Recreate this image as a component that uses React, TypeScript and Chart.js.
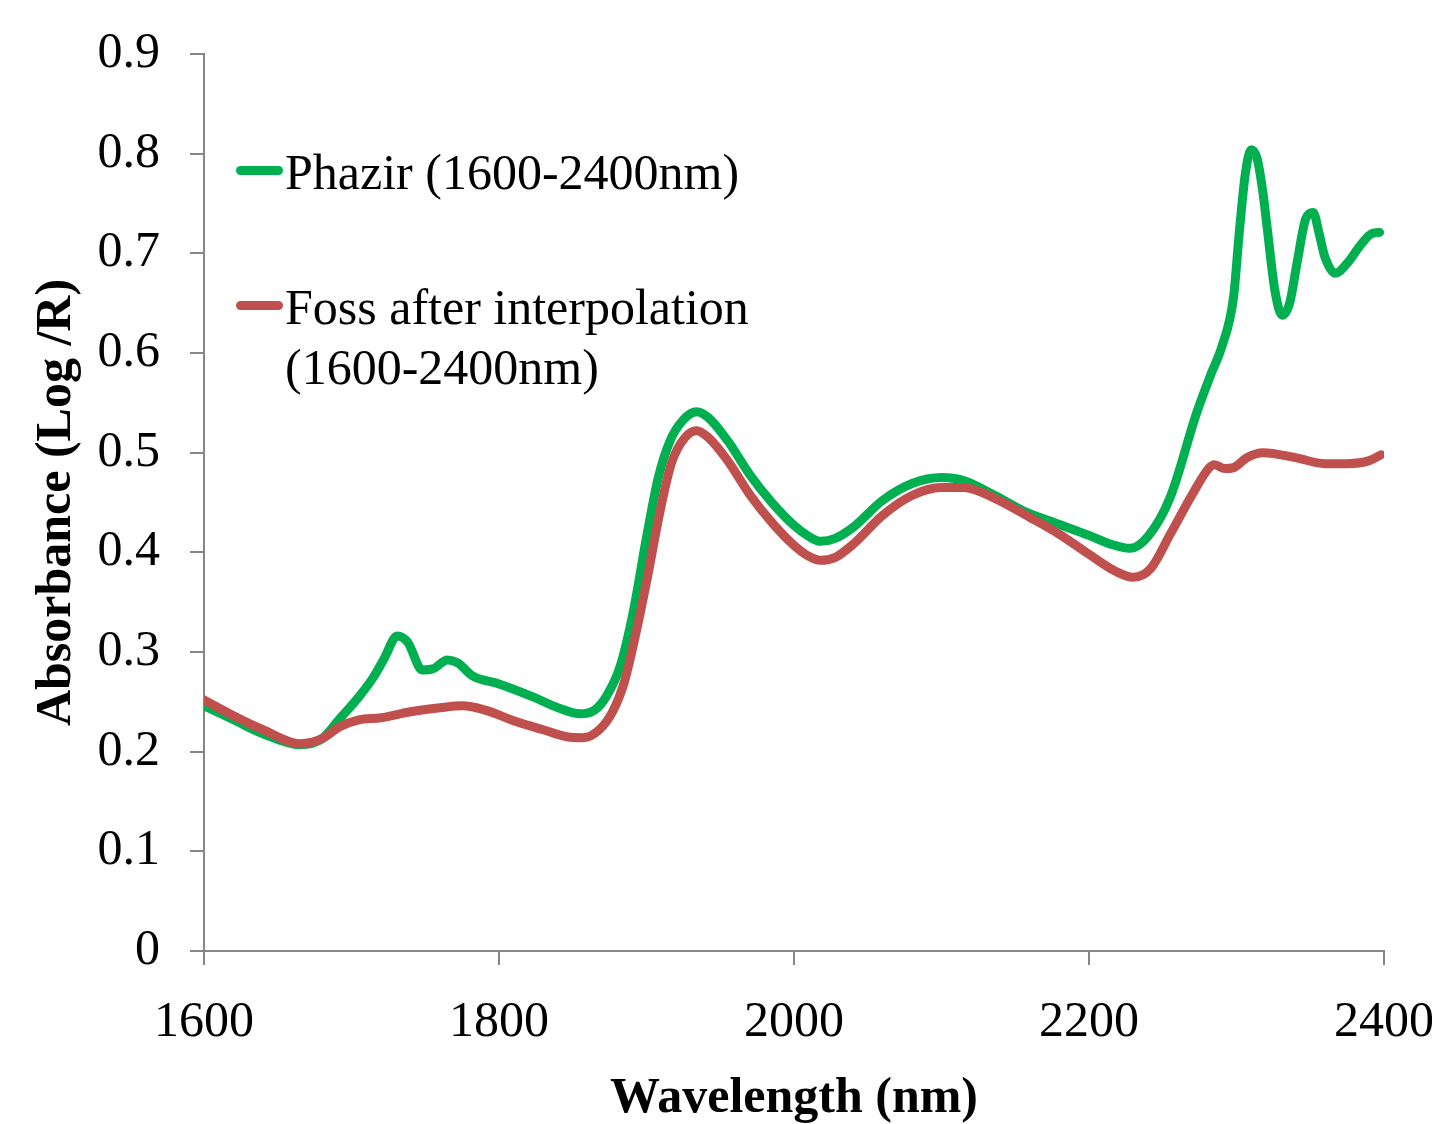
import React, { useEffect, useRef } from "react";
import { Chart, registerables } from "chart.js";

Chart.register(...registerables);

const phazirWavelengths = [
  1600, 1620, 1640, 1665, 1680, 1692, 1705, 1715, 1722, 1731, 1738, 1748, 1755, 1765, 1772, 1782,
  1800, 1823, 1840, 1855, 1865, 1873, 1882, 1891, 1900, 1908, 1916, 1925, 1934, 1942, 1955, 1970,
  1985, 2000, 2010, 2018, 2028, 2040, 2060, 2080, 2100, 2115, 2135, 2155, 2180, 2200, 2215, 2228,
  2240, 2255, 2273, 2283, 2290, 2298, 2302, 2306, 2310, 2314, 2318, 2321, 2326, 2331, 2336, 2341,
  2347, 2352, 2356, 2360, 2367, 2375, 2385, 2392, 2397,
];
const phazirValues = [
  0.246, 0.232, 0.218, 0.207, 0.213, 0.233, 0.255, 0.275, 0.293, 0.316, 0.31, 0.282, 0.283, 0.292, 0.289, 0.276,
  0.268, 0.255, 0.244, 0.238, 0.242, 0.256, 0.285, 0.34, 0.415, 0.475, 0.512, 0.533, 0.541, 0.535, 0.512, 0.478,
  0.45, 0.427, 0.416, 0.411, 0.414, 0.425, 0.452, 0.469, 0.475, 0.472, 0.458, 0.442, 0.428, 0.417, 0.408, 0.404,
  0.416, 0.455, 0.54, 0.58, 0.606, 0.656, 0.723, 0.78, 0.804, 0.795, 0.76, 0.723, 0.663, 0.638, 0.65, 0.69,
  0.735, 0.741, 0.72, 0.696, 0.68, 0.69, 0.71, 0.72, 0.721,
];

const fossWavelengths = [
  1600, 1620, 1640, 1665, 1680, 1692, 1705, 1720, 1740, 1760, 1775, 1790, 1812, 1830, 1846, 1857,
  1868, 1877, 1885, 1893, 1900, 1909, 1917, 1926, 1934, 1942, 1955, 1970, 1985, 2000, 2010, 2018,
  2028, 2040, 2060, 2080, 2100, 2115, 2135, 2160, 2180, 2200, 2218, 2230, 2242, 2255, 2270, 2281,
  2285, 2292, 2298, 2307, 2318, 2340, 2360, 2375, 2390, 2398,
];
const fossValues = [
  0.252, 0.236, 0.222, 0.208, 0.213, 0.225, 0.232, 0.234, 0.24, 0.244, 0.246, 0.242, 0.23, 0.222, 0.215, 0.214,
  0.222, 0.24, 0.27, 0.32, 0.37, 0.44, 0.49, 0.515, 0.522, 0.515, 0.492, 0.458, 0.43, 0.407, 0.396, 0.392,
  0.395, 0.408, 0.437, 0.457, 0.465, 0.465, 0.455, 0.435, 0.418, 0.398, 0.381, 0.375, 0.384, 0.418, 0.458, 0.484,
  0.488, 0.484, 0.485, 0.495, 0.5, 0.495, 0.489, 0.489, 0.492, 0.498,
];

const seriesNames = ["Phazir (1600-2400nm)", "Foss after interpolation (1600-2400nm)"];
const xTitle = "Wavelength (nm)";
const yTitle = "Absorbance (Log /R)";

const GREEN = "#00B050";
const RED = "#C0504D";
const AXIS = "#868686";
const FONT = "'Liberation Serif', 'Times New Roman', serif";

export default function App() {
  const ref = useRef<HTMLCanvasElement | null>(null);

  useEffect(() => {
    if (!ref.current) return;
    const chart = new Chart(ref.current, {
      type: "line",
      data: {
        datasets: [
          {
            label: seriesNames[1],
            data: fossWavelengths.map((x, i) => ({ x, y: fossValues[i] })),
            borderColor: RED,
            borderWidth: 9,
            pointRadius: 0,
            cubicInterpolationMode: "monotone",
            borderCapStyle: "round",
            borderJoinStyle: "round",
          },
          {
            label: seriesNames[0],
            data: phazirWavelengths.map((x, i) => ({ x, y: phazirValues[i] })),
            borderColor: GREEN,
            borderWidth: 9,
            pointRadius: 0,
            cubicInterpolationMode: "monotone",
            borderCapStyle: "round",
            borderJoinStyle: "round",
          },
        ],
      },
      options: {
        responsive: false,
        animation: false,
        layout: { padding: { top: 54, right: 48, bottom: 0, left: 0 } },
        plugins: { legend: { display: false }, tooltip: { enabled: false } },
        scales: {
          x: {
            type: "linear",
            min: 1600,
            max: 2400,
            ticks: {
              stepSize: 200,
              color: "#000",
              padding: 28,
              maxRotation: 0,
              font: { family: FONT, size: 50 },
              callback: (v: any) => String(v),
            },
            grid: {
              drawOnChartArea: false,
              tickLength: 14,
              color: AXIS,
              lineWidth: 2,
            },
            border: { color: AXIS, width: 2 },
            title: {
              display: true,
              text: xTitle,
              color: "#000",
              font: { family: FONT, size: 50, weight: "bold", lineHeight: 1 },
              padding: { top: 0, bottom: 0 },
            },
            afterFit: (s: any) => {
              s.height = 173;
              s.paddingRight = 0;
              s.paddingLeft = 0;
            },
          },
          y: {
            min: 0,
            max: 0.9,
            ticks: {
              stepSize: 0.1,
              color: "#000",
              padding: 30,
              font: { family: FONT, size: 50 },
              callback: (v: any) => (Number(v) === 0 ? "0" : Number(v).toFixed(1)),
            },
            grid: {
              drawOnChartArea: false,
              tickLength: 14,
              color: AXIS,
              lineWidth: 2,
            },
            border: { color: AXIS, width: 2 },
            title: {
              display: true,
              text: yTitle,
              color: "#000",
              font: { family: FONT, size: 50, weight: "bold", lineHeight: 1 },
              padding: { top: 32, bottom: 0 },
            },
            afterFit: (s: any) => {
              s.width = 204;
              s.paddingTop = 0;
              s.paddingBottom = 0;
            },
          },
        },
      },
    });
    return () => chart.destroy();
  }, []);

  const textStyle: React.CSSProperties = {
    position: "absolute",
    fontFamily: FONT,
    fontSize: 50,
    lineHeight: "60px",
    color: "#000",
    whiteSpace: "nowrap",
  };
  const lineStyle = (color: string, top: number): React.CSSProperties => ({
    position: "absolute",
    left: 236,
    top,
    width: 47,
    height: 9,
    borderRadius: 5,
    background: color,
  });

  return (
    <div style={{ position: "absolute", left: 0, top: 0, width: 1432, height: 1124, background: "#fff" }}>
      <canvas ref={ref} width={1432} height={1124} style={{ display: "block" }} />
      <div style={lineStyle(GREEN, 166)} />
      <div style={{ ...textStyle, left: 285, top: 142 }}>{seriesNames[0]}</div>
      <div style={lineStyle(RED, 301)} />
      <div style={{ ...textStyle, left: 285, top: 277 }}>
        Foss after interpolation
        <br />
        (1600-2400nm)
      </div>
    </div>
  );
}
